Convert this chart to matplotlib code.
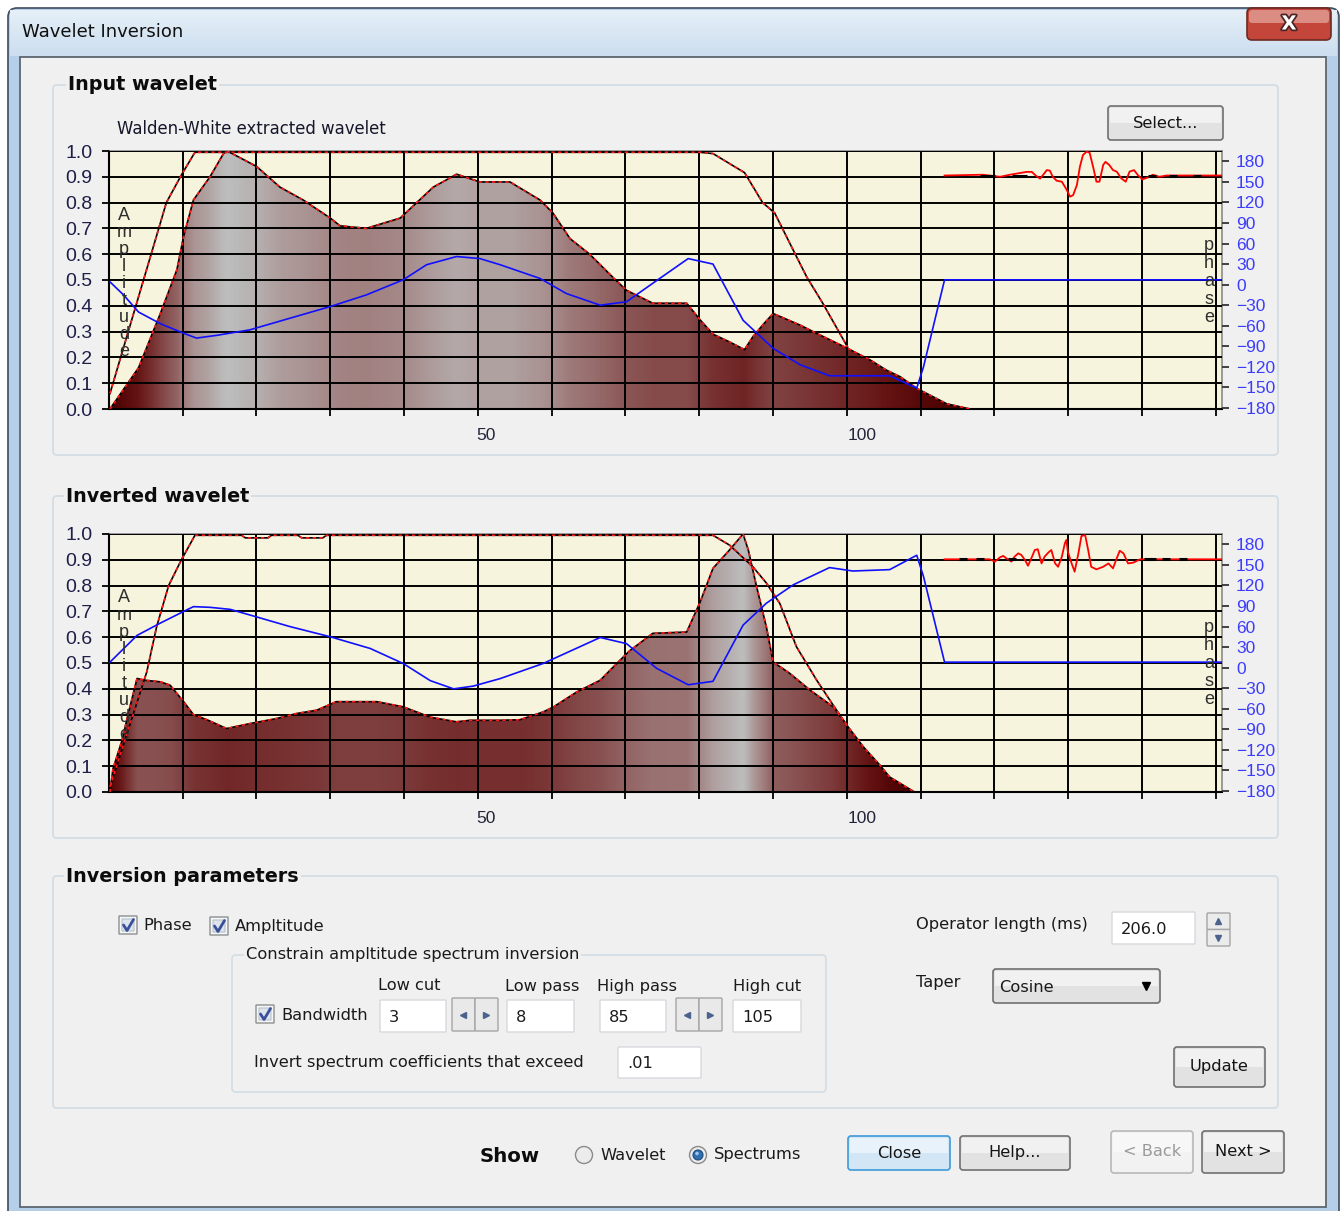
import numpy as np
import matplotlib
matplotlib.use('Agg')
import matplotlib.pyplot as plt
from matplotlib.patches import Rectangle, FancyBboxPatch, Polygon, Circle
from matplotlib.colors import LinearSegmentedColormap
import matplotlib.patheffects as pe

plt.rcParams['font.family'] = ['Liberation Sans', 'DejaVu Sans']

W, H = 1341, 1211

# ---- input wavelet: amplitude spectrum (Hz, normalised)
in_freq = [0.0, 3.8, 6.7, 8.9, 9.8, 11.1, 13.3, 15.1, 15.6, 19.5, 22.6, 25.7, 29.3, 30.6, 34.1,
           38.6, 40.8, 43.0, 46.1, 49.2, 53.2, 57.2, 58.9, 61.2, 63.8, 66.9, 68.7, 72.2, 76.7,
           78.5, 80.2, 82.4, 84.4, 85.5, 86.8, 88.2, 91.8, 93.5, 98.1, 101.1, 103.3, 105.1,
           107.3, 111.3, 114.4]
in_amp = [0.0, 0.16, 0.37, 0.54, 0.67, 0.81, 0.90, 0.99, 1.0, 0.94, 0.86, 0.81, 0.74, 0.71, 0.70,
          0.74, 0.80, 0.86, 0.91, 0.88, 0.88, 0.81, 0.76, 0.66, 0.60, 0.51, 0.46, 0.41, 0.41,
          0.345, 0.29, 0.26, 0.23, 0.28, 0.325, 0.37, 0.325, 0.30, 0.235, 0.19, 0.15, 0.125,
          0.08, 0.02, 0.0]
# bandpass operator
in_filt_freq = [0.0, 7.5, 9.5, 11.3, 78.5, 80.2, 84.4, 86.8, 88.4, 90.8, 92.7, 94.8, 98.1]
in_filt_amp = [0.06, 0.80, 0.907, 0.995, 0.995, 0.99, 0.916, 0.80, 0.76, 0.62, 0.51, 0.41, 0.24]
# phase spectrum (degrees)
in_phase_freq = [0.0, 1.8, 3.8, 6.7, 9.8, 11.5, 14.2, 18.6, 23.0, 29.3, 34.1, 39.0, 42.1, 46.1,
                 49.2, 51.9, 57.2, 60.7, 65.2, 68.7, 72.2, 76.9, 80.2, 84.2, 88.2, 91.8, 95.7,
                 103.7, 107.3, 108.2, 111.0, 147.9]
in_phase = [4, -15, -40, -57, -71, -78, -74, -66, -52, -32, -15, 7, 29, 41, 38, 29, 9, -13, -30,
            -25, 2, 38, 30, -52, -93, -117, -133, -133, -151, -120, 7, 7]
# time-domain wavelet thumbnail
in_wav_x = [111.0, 116.1, 118.4, 119.7, 121.9, 122.6, 123.2, 123.7, 124.1, 124.6, 125.0, 125.4,
            125.9, 126.6, 127.2, 127.7, 128.1, 128.6, 129.0, 129.4, 129.9, 130.3, 130.8, 131.2,
            131.6, 132.1, 132.4, 132.9, 133.4, 133.9, 134.5, 135.1, 135.6, 136.2, 136.7, 137.3,
            138.1, 138.7, 139.6, 140.5, 147.9]
in_wav_y = [0.905, 0.908, 0.900, 0.908, 0.919, 0.919, 0.903, 0.893, 0.907, 0.926, 0.924, 0.900,
            0.885, 0.881, 0.852, 0.823, 0.829, 0.868, 0.939, 0.984, 0.998, 0.993, 0.933, 0.881,
            0.881, 0.946, 0.958, 0.946, 0.926, 0.920, 0.894, 0.881, 0.920, 0.926, 0.907, 0.890,
            0.898, 0.908, 0.900, 0.905, 0.905]
in_marks = [116.3, 117.2, 120.5, 121.4, 138.6, 141.4, 144.6]

# ---- inverted wavelet
inv_freq = [0.0, 0.4, 1.6, 2.4, 3.6, 4.7, 6.7, 8.0, 9.8, 11.1, 12.9, 15.5, 18.6, 22.2, 24.8, 27.5,
            30.1, 35.5, 39.0, 42.6, 46.1, 47.9, 51.9, 54.5, 57.6, 59.0, 62.1, 65.2, 67.4, 69.1,
            72.2, 76.7, 78.5, 80.2, 82.4, 84.2, 84.9, 86.0, 87.3, 88.2, 90.4, 93.1, 96.2, 98.0,
            100.2, 102.4, 103.7, 107.0]
inv_amp = [0.0, 0.09, 0.20, 0.30, 0.44, 0.433, 0.427, 0.414, 0.35, 0.30, 0.28, 0.246, 0.265,
           0.285, 0.304, 0.317, 0.35, 0.35, 0.33, 0.29, 0.272, 0.278, 0.278, 0.28, 0.31, 0.33,
           0.388, 0.433, 0.498, 0.547, 0.615, 0.62, 0.737, 0.867, 0.938, 1.0, 0.938, 0.796,
           0.64, 0.504, 0.46, 0.395, 0.33, 0.259, 0.175, 0.104, 0.058, 0.0]
inv_filt_freq = [0.0, 4.9, 6.2, 7.8, 9.5, 11.3, 17.5, 18.0, 21.0, 21.5, 25.0, 25.5, 28.3, 28.8,
                 78.5, 80.2, 82.4, 85.5, 87.3, 89.1, 91.3, 94.0, 96.2, 98.0]
inv_filt_amp = [0.02, 0.466, 0.64, 0.80, 0.90, 0.995, 0.995, 0.985, 0.985, 0.995, 0.995, 0.985,
                0.985, 0.995, 0.995, 0.995, 0.957, 0.873, 0.81, 0.73, 0.563, 0.433, 0.336, 0.259]
inv_phase_freq = [0.0, 3.6, 6.7, 9.8, 11.1, 13.3, 16.0, 19.5, 23.9, 29.3, 34.6, 39.0, 42.6, 45.7,
                  48.3, 51.9, 57.6, 61.6, 65.2, 68.7, 72.7, 76.9, 80.2, 84.2, 87.3, 90.9, 95.7,
                  98.8, 103.7, 107.3, 108.2, 111.0, 147.9]
inv_phase = [8, 47, 65, 82, 89, 88, 85, 74, 60, 45, 28, 6, -19, -31, -27, -16, 6, 26, 44, 35, -1,
             -25, -20, 62, 94, 121, 146, 141, 143, 164, 133, 8, 8]
inv_wav_x = [111.0, 117.0, 117.7, 118.4, 118.8, 119.2, 119.9, 120.3, 120.8, 121.2, 121.7, 122.1,
             122.6, 123.0, 123.4, 123.9, 124.3, 124.8, 125.2, 125.7, 126.1, 126.6, 127.0, 127.2,
             127.4, 127.9, 128.3, 128.8, 129.2, 129.7, 130.1, 130.5, 131.2, 132.1, 132.8, 133.4,
             133.9, 134.3, 134.8, 135.4, 136.1, 137.0, 147.9]
inv_wav_y = [0.902, 0.902, 0.893, 0.910, 0.915, 0.906, 0.893, 0.912, 0.925, 0.919, 0.899, 0.877,
             0.910, 0.938, 0.941, 0.886, 0.912, 0.928, 0.938, 0.886, 0.873, 0.912, 0.964, 0.977,
             0.931, 0.886, 0.854, 0.925, 0.992, 0.996, 0.938, 0.873, 0.863, 0.873, 0.886, 0.867,
             0.906, 0.935, 0.925, 0.886, 0.889, 0.902, 0.902]
inv_marks = [113.4, 115.7, 120.0, 138.0, 138.6, 140.4, 142.7]

amp_ticks = [0.0, 0.1, 0.2, 0.3, 0.4, 0.5, 0.6, 0.7, 0.8, 0.9, 1.0]
phase_ticks = [-180, -150, -120, -90, -60, -30, 0, 30, 60, 90, 120, 150, 180]
freq_labels = [50, 100]

XMIN, XMAX = -0.13, 147.9
GRID_STEP = 9.815
grid_x = [-0.15 + GRID_STEP * k for k in range(1, 16)]

spec_cmap = LinearSegmentedColormap.from_list(
    'spec', ['#4a0000', '#641212', '#773030', '#885050', '#966a6a', '#a38383', '#ae9c9c', '#bdbdbd'])

UI = 'DejaVu Sans'
UIS = 11.7

fig = plt.figure(figsize=(W / 100, H / 100), dpi=100)
fig.patch.set_facecolor('white')

bg = fig.add_axes([0, 0, 1, 1], zorder=0)
bg.axis('off')


def box(x0, y0, x1, y1, fc, ec, lw=1.0, r=3, z=1):
    p = FancyBboxPatch((x0, y0), x1 - x0, y1 - y0,
                       boxstyle='round,pad=0,rounding_size=%g' % r,
                       fc=fc, ec=ec, lw=lw, zorder=z)
    bg.add_patch(p)


def label(x, y, s, size=UIS, ha='left', va='center', color='#1a1a1a', weight='normal', **kw):
    bg.text(x, y, s, fontsize=size, ha=ha, va=va, color=color, fontweight=weight,
            family=UI, zorder=6, **kw)


def group(x0, y0, x1, y1, title, tx, size=13.8, weight='bold'):
    box(x0, y0, x1, y1, 'none', '#d3dde4', lw=1.3, r=4, z=2)
    label(tx, y0, title, size=size, weight=weight, color='#0c0c0c',
          bbox=dict(facecolor='#f0f0f0', edgecolor='none', pad=1.5))


def button(x0, y0, x1, y1, text, ec='#707070', fc='#e2e2e2', hi='#f1f1f1', tc='#141414'):
    box(x0, y0, x1, y1, fc, ec, lw=1.2, r=3, z=3)
    box(x0 + 2, y0 + 2, x1 - 2, (y0 + y1) / 2, hi, 'none', lw=0, r=1, z=3)
    label((x0 + x1) / 2, (y0 + y1) / 2, text, ha='center', color=tc)


def edit(x0, y0, x1, y1, text):
    box(x0, y0, x1, y1, 'white', '#d6d9de', lw=1.0, r=1, z=3)
    label(x0 + 9, (y0 + y1) / 2 + 1, text)


def checkbox(x, y):
    box(x, y, x + 18, y + 18, '#f4f6f8', '#8e8f8f', lw=1.0, r=0, z=3)
    box(x + 3, y + 3, x + 15, y + 15, '#dde4ec', '#b8c1cb', lw=0.8, r=0, z=3)
    bg.plot([x + 4.5, x + 8, x + 14.5], [y + 9, y + 14.5, y + 3.5], color='#3a4f9a', lw=2.0,
            zorder=4, solid_capstyle='round')


def radio(x, y, selected):
    bg.add_patch(Circle((x, y), 8.5, fc='#ececec', ec='#8a8a8a', lw=1.0, zorder=3))
    if selected:
        bg.add_patch(Circle((x, y), 5.0, fc='#2f6fb0', ec='#1d4a7a', lw=0.8, zorder=4))
        bg.add_patch(Circle((x - 1, y - 1.5), 1.8, fc='#9cc6ee', ec='none', zorder=5))


def hspin(x0, y0, x1, y1):
    mid = (x0 + x1) / 2
    box(x0, y0, mid, y1, '#e9e9e9', '#a5a5a5', lw=1.0, r=1, z=3)
    box(mid, y0, x1, y1, '#e9e9e9', '#a5a5a5', lw=1.0, r=1, z=3)
    yc = (y0 + y1) / 2
    bg.plot([(x0 + mid) / 2], [yc], marker='<', ms=4, color='#4c628e', zorder=4)
    bg.plot([(mid + x1) / 2], [yc], marker='>', ms=4, color='#4c628e', zorder=4)


def vspin(x0, y0, x1, y1):
    mid = (y0 + y1) / 2
    box(x0, y0, x1, mid, '#ebebeb', '#a5a5a5', lw=1.0, r=1, z=3)
    box(x0, mid, x1, y1, '#ebebeb', '#a5a5a5', lw=1.0, r=1, z=3)
    xc = (x0 + x1) / 2
    bg.plot([xc], [(y0 + mid) / 2], marker='^', ms=4, color='#4c628e', zorder=4)
    bg.plot([xc], [(mid + y1) / 2], marker='v', ms=4, color='#4c628e', zorder=4)


# ---- window chrome
box(8, 8, 1339, 1230, '#b6cfe9', '#3e4b5c', lw=1.2, r=9, z=0)
grad = np.linspace(0, 1, 60)[:, None, None] * (np.array([0.80, 0.87, 0.94]) - np.array([0.90, 0.94, 0.97])) \
    + np.array([0.90, 0.94, 0.97])
bg.imshow(grad, extent=(10, 1337, 56, 10), aspect='auto', zorder=0.5, interpolation='bilinear')
bg.add_patch(Rectangle((20, 57), 1306, 1150, fc='#f0f0f0', ec='#5d6670', lw=1.3, zorder=1))
label(22, 32, 'Wavelet Inversion', size=13, color='#101010')

box(1247, 8, 1331, 40, '#c4463b', '#6e2a22', lw=1.2, r=5, z=3)
box(1249, 10, 1329, 23, '#dc8d83', 'none', lw=0, r=3, z=3)
bg.text(1289, 24, 'X', fontsize=14, ha='center', va='center', color='white', fontweight='bold',
        family=UI, zorder=6, path_effects=[pe.withStroke(linewidth=2.5, foreground='#4a2424')])

# ---- group boxes
group(53, 85, 1278, 455, 'Input wavelet', 68)
group(53, 496, 1278, 838, 'Inverted wavelet', 66)
group(53, 876, 1278, 1108, 'Inversion parameters', 66)
label(117, 129, 'Walden-White extracted wavelet', size=11.9, color='#16162a')
button(1108, 106, 1223, 140, 'Select...')


def chart(top, bottom, freq, amp, filt_f, filt_a, ph_f, ph, wx, wy, marks):
    ax = fig.add_axes([109 / W, 1 - bottom / H, (1222 - 109) / W, (bottom - top) / H], zorder=2)
    ax.set_facecolor('#f6f4dc')
    xs = np.linspace(XMIN, XMAX, 900)
    shade = spec_cmap(np.interp(xs, freq, amp))[None, :, :3]
    im = ax.imshow(shade, extent=(XMIN, XMAX, 0, 1), aspect='auto', zorder=1,
                   interpolation='bilinear')
    verts = [(freq[0], 0)] + list(zip(freq, amp)) + [(freq[-1], 0)]
    clip = Polygon(verts, closed=True, transform=ax.transData, fc='none', ec='none')
    ax.add_patch(clip)
    im.set_clip_path(clip)

    for xv, yv in [(freq, amp), (filt_f, filt_a)]:
        ax.plot(xv, yv, color='black', lw=1.2, zorder=4)
        ax.plot(xv, yv, color='#ff1a1a', lw=1.2, dashes=(2.0, 2.0), zorder=5)
    ax.plot(wx, wy, color='red', lw=1.3, zorder=5)
    ax.plot(marks, [wy[0]] * len(marks), ls='none', marker='_', ms=6, mew=2.2, color='black',
            zorder=6)

    ax.set_xlim(XMIN, XMAX)
    ax.set_ylim(0, 1)
    ax.set_axisbelow(False)
    ax.set_xticks(grid_x)
    ax.set_xticklabels([])
    ax.set_xticks(freq_labels, minor=True)
    ax.set_xticklabels([str(v) for v in freq_labels], minor=True)
    ax.set_yticks(amp_ticks)
    ax.set_yticklabels(['%.1f' % v for v in amp_ticks])
    ax.grid(True, which='major', color='black', lw=1.4)
    ax.tick_params(axis='x', which='major', direction='out', length=5, width=1.3, color='black')
    ax.tick_params(axis='x', which='minor', length=0, pad=14, labelsize=12.5, labelcolor='#24243a')
    ax.tick_params(axis='y', direction='out', length=5, width=1.3, pad=7, labelsize=14,
                   labelcolor='#1e1e48')
    for s in ['left', 'bottom']:
        ax.spines[s].set_color('black')
        ax.spines[s].set_linewidth(1.5)
    for s in ['top', 'right']:
        ax.spines[s].set_color('#8a8a8a')
        ax.spines[s].set_linewidth(1.2)

    ax2 = ax.twinx()
    ax2.set_zorder(3)
    ax2.plot(ph_f, ph, color='#1010ff', lw=1.2)
    ax2.set_ylim(-181.5, 195)
    ax2.set_yticks(phase_ticks)
    ax2.tick_params(axis='y', direction='out', length=5, width=1.3, color='#333333',
                    labelcolor='#3c3cff', labelsize=12.5, pad=5)
    for s in ax2.spines.values():
        s.set_visible(False)
    return ax


chart(151, 409, in_freq, in_amp, in_filt_freq, in_filt_amp, in_phase_freq, in_phase,
      in_wav_x, in_wav_y, in_marks)
chart(534, 792, inv_freq, inv_amp, inv_filt_freq, inv_filt_amp, inv_phase_freq, inv_phase,
      inv_wav_x, inv_wav_y, inv_marks)

fg = fig.add_axes([0, 0, 1, 1], zorder=5)
fg.axis('off')
fg.set_xlim(0, W)
fg.set_ylim(H, 0)
for y0, py0 in [(215, 246), (598, 628)]:
    for i, ch in enumerate('Amplitude'):
        fg.text(124, y0 + i * 17.1, ch, ha='center', va='center', fontsize=13, color='#2e2e2e')
    for i, ch in enumerate('phase'):
        fg.text(1209, py0 + i * 18.0, ch, ha='center', va='center', fontsize=13, color='#2e2e2e')

# ---- inversion parameters
checkbox(119, 916)
label(143, 925, 'Phase')
checkbox(210, 917)
label(235, 926, 'Ampltitude')
box(232, 955, 826, 1092, 'none', '#d3dde4', lw=1.2, r=4, z=2)
label(246, 955, 'Constrain ampltitude spectrum inversion',
      bbox=dict(facecolor='#f0f0f0', edgecolor='none', pad=1.5))
checkbox(256, 1005)
label(281, 1015, 'Bandwidth')
label(378, 986, 'Low cut')
label(505, 986, 'Low pass')
label(597, 986, 'High pass')
label(733, 986, 'High cut')
edit(380, 1000, 446, 1032, '3')
hspin(452, 998, 498, 1031)
edit(507, 1000, 574, 1032, '8')
edit(600, 1000, 666, 1032, '85')
hspin(676, 998, 722, 1031)
edit(733, 1000, 801, 1032, '105')
label(254, 1063, 'Invert spectrum coefficients that exceed')
edit(618, 1047, 701, 1078, '.01')

label(916, 925, 'Operator length (ms)')
edit(1112, 912, 1195, 944, '206.0')
vspin(1207, 913, 1230, 946)
label(916, 983, 'Taper')
button(993, 969, 1160, 1003, '')
label(999, 987, 'Cosine')
bg.plot([1146], [986], marker='v', ms=6, color='black', zorder=5)
button(1174, 1047, 1265, 1087, 'Update')

# ---- bottom row
label(480, 1156, 'Show', size=14.2, weight='bold', color='#0c0c0c')
radio(584, 1155, False)
label(600, 1155, 'Wavelet')
radio(698, 1155, True)
label(714, 1155, 'Spectrums')
button(848, 1136, 950, 1170, 'Close', ec='#3c9ad8', fc='#d3e6f5', hi='#e8f2fa')
button(960, 1136, 1070, 1170, 'Help...')
button(1111, 1131, 1193, 1173, '< Back', ec='#b8b8b8', fc='#f2f2f2', hi='#f7f7f7', tc='#9a9a9a')
button(1202, 1131, 1284, 1173, 'Next >')

bg.set_xlim(0, W)
bg.set_ylim(H, 0)

fig.savefig('out.png', dpi=100)
